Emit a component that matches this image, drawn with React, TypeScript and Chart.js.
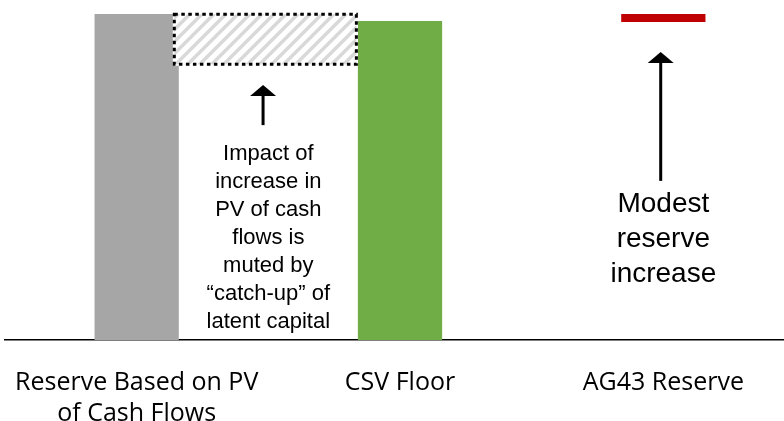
import React, { useEffect, useRef } from "react";
import { Chart, registerables } from "chart.js";

Chart.register(...registerables);

// ---- Data ----
const categories: (string | string[])[] = [
  ["Reserve Based on PV", "of Cash Flows"],
  "CSV Floor",
  "AG43 Reserve",
];
const barStarts = [0, 0, 93.5];
const barEnds = [95.9, 93.8, 95.9];
const barColors = ["#a6a6a6", "#70ad47", "#c00000"];

// hatched "impact" box between first two bars (value range low..high)
const impactBoxRange = [81.1, 95.8];

// arrows: category position, tip value, tail value
const arrowCategoryPos = [0.48, 1.99];
const arrowTipValues = [75, 84.7];
const arrowTailValues = [63.2, 46.8];

// notes
const noteCategoryPos = [0.5, 2.0];
const noteFirstBaselineValues = [52.9, 37.6];
const noteLines = [
  [
    "Impact of",
    "increase in",
    "PV of cash",
    "flows is",
    "muted by",
    "\u201Ccatch-up\u201D of",
    "latent capital",
  ],
  ["Modest", "reserve", "increase"],
];
const noteFontSizes = [22, 28];
const noteLineSpacing = [28, 35];

function makeHatch(): CanvasPattern | string {
  const c = document.createElement("canvas");
  c.width = 12;
  c.height = 12;
  const p = c.getContext("2d");
  if (!p) return "#e6e6e6";
  p.fillStyle = "#ffffff";
  p.fillRect(0, 0, 12, 12);
  p.strokeStyle = "#d9d9d9";
  p.lineWidth = 3.5;
  p.beginPath();
  p.moveTo(0, 12);
  p.lineTo(12, 0);
  p.moveTo(-3, 3);
  p.lineTo(3, -3);
  p.moveTo(9, 15);
  p.lineTo(15, 9);
  p.stroke();
  const pat = p.createPattern(c, "repeat");
  return pat || "#e6e6e6";
}

const annotationPlugin = {
  id: "customAnnotations",
  afterDatasetsDraw(chart: any) {
    const ctx: CanvasRenderingContext2D = chart.ctx;
    const xs = chart.scales.x;
    const ys = chart.scales.y;
    const meta = chart.getDatasetMeta(0);
    const gray: any = meta.data[0];
    const green: any = meta.data[1];

    // hatched dotted box
    const outerLeft = gray.x + gray.width / 2 - 6;
    const outerRight = green.x - green.width / 2;
    const top = ys.getPixelForValue(impactBoxRange[1]);
    const bottom = ys.getPixelForValue(impactBoxRange[0]);
    const lw = 3;
    const l = outerLeft + lw / 2;
    const r = outerRight - lw / 2;
    ctx.save();
    ctx.fillStyle = "#ffffff";
    ctx.fillRect(l - lw / 2, top - lw / 2, r - l + lw, bottom - top + lw);
    ctx.fillStyle = makeHatch();
    ctx.fillRect(l, top, r - l, bottom - top);
    ctx.strokeStyle = "#000000";
    ctx.lineWidth = lw;
    ctx.setLineDash([3.5, 3.5]);
    ctx.lineCap = "butt";
    ctx.strokeRect(l, top, r - l, bottom - top);
    ctx.setLineDash([]);

    // arrows
    ctx.fillStyle = "#000000";
    ctx.strokeStyle = "#000000";
    for (let i = 0; i < arrowCategoryPos.length; i++) {
      const ax = xs.getPixelForValue(arrowCategoryPos[i]);
      const tip = ys.getPixelForValue(arrowTipValues[i]);
      const tail = ys.getPixelForValue(arrowTailValues[i]);
      const headH = 11;
      const headW = 26;
      ctx.lineWidth = 3;
      ctx.beginPath();
      ctx.moveTo(ax, tail);
      ctx.lineTo(ax, tip + headH - 1);
      ctx.stroke();
      ctx.beginPath();
      ctx.moveTo(ax, tip);
      ctx.lineTo(ax + headW / 2, tip + headH);
      ctx.lineTo(ax - headW / 2, tip + headH);
      ctx.closePath();
      ctx.fill();
    }

    // notes
    ctx.textAlign = "center";
    ctx.textBaseline = "alphabetic";
    for (let i = 0; i < noteLines.length; i++) {
      const nx = xs.getPixelForValue(noteCategoryPos[i]);
      const ny = ys.getPixelForValue(noteFirstBaselineValues[i]);
      ctx.font = `${noteFontSizes[i]}px 'Liberation Sans', Arial, sans-serif`;
      noteLines[i].forEach((line, k) => {
        ctx.fillText(line, nx, ny + k * noteLineSpacing[i]);
      });
    }
    ctx.restore();
  },
};

export default function App() {
  const ref = useRef<HTMLCanvasElement>(null);
  useEffect(() => {
    if (!ref.current) return;
    const chart = new Chart(ref.current, {
      type: "bar",
      data: {
        labels: categories as any,
        datasets: [
          {
            data: barStarts.map((s, i) => [s, barEnds[i]]) as any,
            backgroundColor: barColors,
            borderWidth: 0,
            barPercentage: 0.32,
            categoryPercentage: 1,
          },
        ],
      },
      options: {
        responsive: false,
        animation: false,
        layout: { autoPadding: false, padding: { left: 5, right: 0, top: 0, bottom: 0 } },
        plugins: {
          legend: { display: false },
          tooltip: { enabled: false },
        },
        scales: {
          x: {
            grid: { display: false, drawTicks: false },
            border: { display: true, color: "#000000", width: 1.5 },
            ticks: {
              color: "#000000",
              font: { family: "'Open Sans', sans-serif", size: 25, lineHeight: 1.22 },
              padding: 28,
              maxRotation: 0,
              minRotation: 0,
              autoSkip: false,
            },
            afterFit: (s: any) => {
              s.height = 81;
              s.paddingLeft = 0;
              s.paddingRight = 0;
            },
          } as any,
          y: { display: false, min: 0, max: 100 },
        },
      } as any,
      plugins: [annotationPlugin],
    });
    return () => chart.destroy();
  }, []);
  return (
    <div
      style={{
        position: "absolute",
        left: 0,
        top: 0,
        width: 784,
        height: 421,
        overflow: "hidden",
        background: "#ffffff",
      }}
    >
      <canvas ref={ref} width={795} height={421} style={{ display: "block" }} />
    </div>
  );
}
